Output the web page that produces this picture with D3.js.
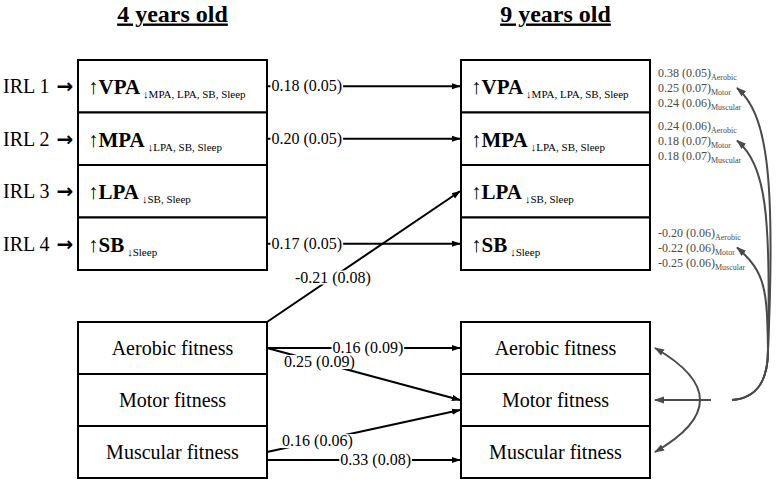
<!DOCTYPE html>
<html>
<head>
<meta charset="utf-8">
<script src="https://cdn.jsdelivr.net/npm/d3@7"></script>
<style>
  body { margin: 0; background: #fff; }
</style>
</head>
<body>
<div id="chart"></div>
<script>
// columns and rows
const ages = ["4 years old", "9 years old"];
const irlLabels = ["IRL 1", "IRL 2", "IRL 3", "IRL 4"];
const paMain = ["VPA", "MPA", "LPA", "SB"];
const paSub = ["MPA, LPA, SB, Sleep", "LPA, SB, Sleep", "SB, Sleep", "Sleep"];
const fitness = ["Aerobic fitness", "Motor fitness", "Muscular fitness"];

// tracking paths 4 -> 9 years (PA rows)
const paStabRows = ["VPA", "MPA", "SB"];
const paStabEst = ["0.18 (0.05)", "0.20 (0.05)", "0.17 (0.05)"];

// cross paths from fitness at 4 years
const crossFrom = ["Aerobic fitness", "Aerobic fitness", "Aerobic fitness", "Muscular fitness", "Muscular fitness"];
const crossTo = ["LPA", "Aerobic fitness", "Motor fitness", "Motor fitness", "Muscular fitness"];
const crossEst = ["-0.21 (0.08)", "0.16 (0.09)", "0.25 (0.09)", "0.16 (0.06)", "0.33 (0.08)"];

// cross-sectional associations at 9 years (fitness -> PA)
const covRows = ["VPA", "MPA", "SB"];
const covAerobic = ["0.38 (0.05)", "0.24 (0.06)", "-0.20 (0.06)"];
const covMotor = ["0.25 (0.07)", "0.18 (0.07)", "-0.22 (0.06)"];
const covMuscular = ["0.24 (0.06)", "0.18 (0.07)", "-0.25 (0.06)"];
const covTags = ["Aerobic", "Motor", "Muscular"];

const width = 777, height = 481;
const boxW = 189;
const gray = "#4a4a4a";
const serifFont = "'Liberation Serif', 'Times New Roman', Tinos";

const svg = d3.select("#chart").append("svg")
    .attr("width", width)
    .attr("height", height);

const x = d3.scaleOrdinal().domain(ages).range([78, 461]);
const yPA = d3.scaleBand().domain(paMain).range([60, 270]);
const yFit = d3.scaleBand().domain(fitness).range([322, 478]);

// arrow markers
const defs = svg.append("defs");
function marker(id, color, size) {
    defs.append("marker")
        .attr("id", id)
        .attr("viewBox", "0 0 10 10")
        .attr("refX", 9).attr("refY", 5)
        .attr("markerWidth", size).attr("markerHeight", size)
        .attr("markerUnits", "userSpaceOnUse")
        .attr("orient", "auto-start-reverse")
        .append("path")
        .attr("d", "M0,1.5 L10,5 L0,8.5 Z")
        .attr("fill", color);
}
marker("headBlack", "#000", 9);
marker("headGray", gray, 10);

// titles
svg.append("g").selectAll("text")
    .data(ages)
    .join("text")
    .attr("x", d => x(d) + boxW / 2)
    .attr("y", 21.5)
    .attr("text-anchor", "middle")
    .attr("font-size", 24)
    .attr("font-weight", "bold")
    .attr("text-decoration", "underline")
    .text(d => d);

// PA boxes
ages.forEach(age => {
    const g = svg.append("g");
    g.selectAll("rect")
        .data(paMain)
        .join("rect")
        .attr("x", x(age))
        .attr("y", d => yPA(d))
        .attr("width", boxW)
        .attr("height", yPA.bandwidth())
        .attr("fill", "#fff")
        .attr("stroke", "#000")
        .attr("stroke-width", 2);

    const t = g.selectAll("text")
        .data(paMain)
        .join("text")
        .attr("x", x(age) + 10)
        .attr("y", d => yPA(d) + yPA.bandwidth() / 2 + 8);
    t.append("tspan").attr("font-size", 21).text("↑");
    t.append("tspan").attr("font-size", 21).attr("font-weight", "bold").text(d => d);
    t.append("tspan").attr("font-size", 11).attr("dx", 3).attr("dy", 4)
        .text((d, i) => "↓" + paSub[i]);

    // fitness boxes
    const f = svg.append("g");
    f.selectAll("rect")
        .data(fitness)
        .join("rect")
        .attr("x", x(age))
        .attr("y", d => yFit(d))
        .attr("width", boxW)
        .attr("height", yFit.bandwidth())
        .attr("fill", "#fff")
        .attr("stroke", "#000")
        .attr("stroke-width", 2);
    f.selectAll("text")
        .data(fitness)
        .join("text")
        .attr("x", x(age) + boxW / 2)
        .attr("y", d => yFit(d) + yFit.bandwidth() / 2 + 7)
        .attr("text-anchor", "middle")
        .attr("font-size", 20)
        .text(d => d);
});

// IRL labels
const irl = svg.append("g").selectAll("text")
    .data(irlLabels)
    .join("text")
    .attr("x", 3)
    .attr("y", (d, i) => yPA(paMain[i]) + yPA.bandwidth() / 2 + 7)
    .attr("font-size", 20)
    .text(d => d + " ");
irl.append("tspan")
    .attr("class", "arrow")
    .attr("font-weight", "bold")
    .attr("font-size", 20)
    .attr("dx", 2)
    .text("→");

// labelled path helper
const edges = svg.append("g");
function edge(x1, y1, x2, y2, label, t) {
    edges.append("line")
        .attr("x1", x1).attr("y1", y1)
        .attr("x2", x2 - 1).attr("y2", y2)
        .attr("stroke", "#000")
        .attr("stroke-width", 2)
        .attr("marker-end", "url(#headBlack)");
    const lx = x1 + (x2 - x1) * t, ly = y1 + (y2 - y1) * t;
    const txt = edges.append("text")
        .attr("x", lx).attr("y", ly + 5)
        .attr("text-anchor", "middle")
        .attr("font-size", 16)
        .style("font-family", serifFont)
        .text(label);
    const bb = txt.node().getBBox();
    edges.insert("rect", "text:last-of-type")
        .attr("x", bb.x - 1).attr("y", ly - 7)
        .attr("width", bb.width + 2).attr("height", 14)
        .attr("fill", "#fff");
}

const xL = x(ages[0]) + boxW, xR = x(ages[1]);
paStabRows.forEach((r, i) => {
    const yy = yPA(r) + yPA.bandwidth() / 2;
    edge(xL, yy, xR, yy, paStabEst[i], 0.205);
});

crossFrom.forEach((from, i) => {
    const to = crossTo[i];
    let y1 = yFit(from) + yFit.bandwidth() / 2;
    let y2, t = 0.52;
    if (paMain.includes(to)) {
        y1 = yFit(from);
        y2 = yPA(to) + yPA.bandwidth() / 2;
        t = 0.34;
    } else {
        y2 = yFit(to) + yFit.bandwidth() / 2;
    }
    if (from === "Aerobic fitness" && to === "Motor fitness") t = 0.27;
    if (from === "Muscular fitness" && to === "Motor fitness") { y2 += 10; t = 0.26; }
    if (from === "Muscular fitness" && to === "Muscular fitness") { y1 += 8; y2 += 8; t = 0.56; }
    edge(xL, y1, xR, y2, crossEst[i], t);
});

// cross-sectional estimates at 9 years
const covCols = [covAerobic, covMotor, covMuscular];
const rowTop = r => r === "SB" ? yPA(r) + 15 : yPA(r) + 13;
const cg = svg.append("g").attr("fill", gray);
covRows.forEach((r, i) => {
    covTags.forEach((tag, j) => {
        const tx = cg.append("text")
            .attr("x", x(ages[1]) + boxW + 8)
            .attr("y", rowTop(r) + j * 15 + 4)
            .attr("font-size", 12);
        tx.append("tspan").text(covCols[j][i]);
        tx.append("tspan").attr("font-size", 8).attr("dy", 3).text(tag);
    });
});

// curved arrows from motor fitness (9y) up to the estimates
const startX = 732, startY = yFit("Motor fitness") + yFit.bandwidth() / 2;
const curveG = svg.append("g")
    .attr("fill", "none")
    .attr("stroke", gray)
    .attr("stroke-width", 2);
const reach = [[776, 170], [771, 215], [767, 290]];
covRows.forEach((r, i) => {
    const ty = rowTop(r) + 15;
    const tx = 737;
    const p = d3.path();
    p.moveTo(startX, startY);
    p.bezierCurveTo(758, startY - 2, 768, startY - 20, 768, startY - 50);
    p.bezierCurveTo(reach[i][0], reach[i][1], 766, ty + 25, tx, ty);
    curveG.append("path")
        .attr("d", p.toString())
        .attr("marker-end", "url(#headGray)");
});

// correlations among fitness components at 9 years
const fx = x(ages[1]) + boxW + 5;
const pa = d3.path();
pa.moveTo(fx, yFit("Aerobic fitness") + yFit.bandwidth() / 2);
pa.quadraticCurveTo(745, startY, fx, yFit("Muscular fitness") + yFit.bandwidth() / 2);
curveG.append("path")
    .attr("d", pa.toString())
    .attr("marker-start", "url(#headGray)")
    .attr("marker-end", "url(#headGray)");
curveG.append("line")
    .attr("x1", 711).attr("y1", startY)
    .attr("x2", fx).attr("y2", startY)
    .attr("marker-end", "url(#headGray)");

// font on every text element directly
svg.selectAll("text").style("font-family", serifFont);
svg.selectAll("tspan.arrow").style("font-family", "'DejaVu Sans'");
</script>
</body>
</html>
